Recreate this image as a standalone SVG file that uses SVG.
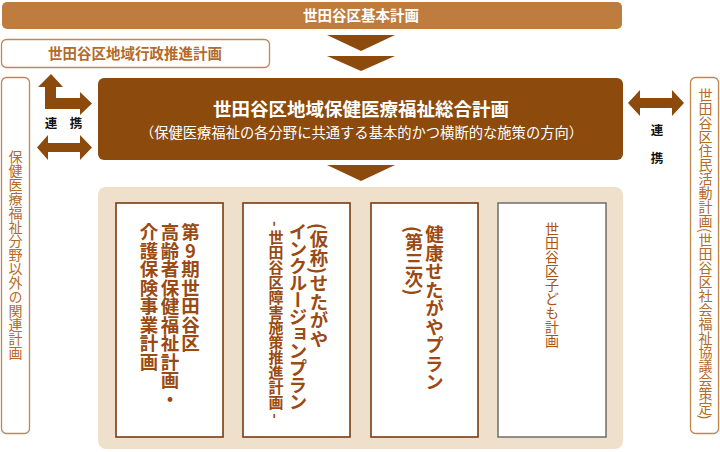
<svg xmlns="http://www.w3.org/2000/svg" width="720" height="452" viewBox="0 0 720 452">
<style>
text{font-family:"Noto Sans CJK JP","Noto Sans",sans-serif;}
.dark{fill:#8C4A0C;}
.white{fill:#ffffff;}
.ochreBox{fill:#ffffff;stroke:#C08850;stroke-width:1.3;}
.ochreTxt{fill:#B36A2A;}
.vert{writing-mode:vertical-rl;}
.plan{fill:#ffffff;stroke:#7B3A12;stroke-width:1.6;}
.planTxt{fill:#9A4A12;font-weight:bold;}
.link{fill:#111111;font-weight:bold;font-size:12.5px;}
</style>
<g id="connectors">
  <polygon class="dark" points="327,35 395,35 361,51"/>
  <polygon class="dark" points="327,56 395,56 361,71"/>
  <polygon class="dark" points="327,165 395,165 361,181"/>
  <polygon class="dark" points="51,74 63,87 56,87 56,98 80,98 80,92 92,103.5 80,115 80,109 45,109 45,87 38,87"/>
  <polygon class="dark" points="37,147.5 48,135 48,143 80,143 80,135 92,147.5 80,160 80,152 48,152 48,160"/>
  <polygon class="dark" points="628,103 640,90 640,98 672,98 672,90 684,103 672,116 672,108 640,108 640,116"/>
  <text class="link" x="51" y="128" text-anchor="middle">連</text>
  <text class="link" x="76" y="128" text-anchor="middle">携</text>
  <text class="link" x="657" y="135" text-anchor="middle">連</text>
  <text class="link" x="657" y="163" text-anchor="middle">携</text>
</g>
<g id="kihon">
  <rect x="2" y="2" width="620" height="27" rx="5" fill="#BE7C3E"/>
  <text class="white" x="361" y="20.5" text-anchor="middle" font-size="14.5" font-weight="bold">世田谷区基本計画</text>
</g>
<g id="gyosei">
  <rect class="ochreBox" x="1.5" y="39.5" width="268" height="28" rx="5"/>
  <text class="ochreTxt" x="135" y="58.5" text-anchor="middle" font-size="14.5" font-weight="bold">世田谷区地域行政推進計画</text>
</g>
<g id="sogo">
  <rect x="98" y="78" width="525" height="82" rx="6" fill="#8C4A0C"/>
  <text class="white" x="361" y="116" text-anchor="middle" font-size="18.5" font-weight="bold">世田谷区地域保健医療福祉総合計画</text>
  <text class="white" x="361.5" y="137.5" text-anchor="middle" font-size="14.3">（保健医療福祉の各分野に共通する基本的かつ横断的な施策の方向）</text>
</g>
<g id="kanren">
  <rect class="ochreBox" x="1.5" y="77.5" width="28" height="356" rx="5"/>
  <text class="ochreTxt vert" x="15.5" y="150" font-size="14">保健医療福祉分野以外の関連計画</text>
</g>
<g id="jumin">
  <rect class="ochreBox" x="690.5" y="77.5" width="28" height="356" rx="5"/>
  <text class="ochreTxt vert" x="705.5" y="88" font-size="14">世田谷区住民活動計画(世田谷区社会福祉協議会策定)</text>
</g>
<g id="container">
  <rect x="98" y="187" width="525" height="262" rx="8" fill="#EFE0CC"/>
</g>
<g id="koreisha">
  <rect class="plan" x="116" y="203" width="107" height="234"/>
  <text class="planTxt vert" x="190.5" y="223" font-size="18.5" style="text-orientation:upright">第9期世田谷区</text>
  <text class="planTxt vert" x="170" y="223" font-size="18.5">高齢者保健福祉計画・</text>
  <text class="planTxt vert" x="149" y="223" font-size="18.5">介護保険事業計画</text>
</g>
<g id="inclusion">
  <rect class="plan" x="243" y="203" width="107" height="234"/>
  <text class="planTxt vert" x="319" y="223" font-size="18.5">(仮称)せたがや</text>
  <text class="planTxt vert" x="298" y="223" font-size="18.5" letter-spacing="-1.5">インクルージョンプラン</text>
  <text class="planTxt vert" x="276" y="221" font-size="15">- 世田谷区障害施策推進計画 -</text>
</g>
<g id="kenko">
  <rect class="plan" x="371" y="203" width="107" height="234"/>
  <text class="planTxt vert" x="434.5" y="225" font-size="18.5">健康せたがやプラン</text>
  <text class="planTxt vert" x="414" y="226" font-size="18.5">(第三次)</text>
</g>
<g id="kodomo">
  <rect x="498" y="203" width="108" height="234" fill="#ffffff" stroke="#5A5A5A" stroke-width="1.3"/>
  <text class="vert" x="552" y="222" font-size="14" fill="#A8531A">世田谷区子ども計画</text>
</g>
</svg>
